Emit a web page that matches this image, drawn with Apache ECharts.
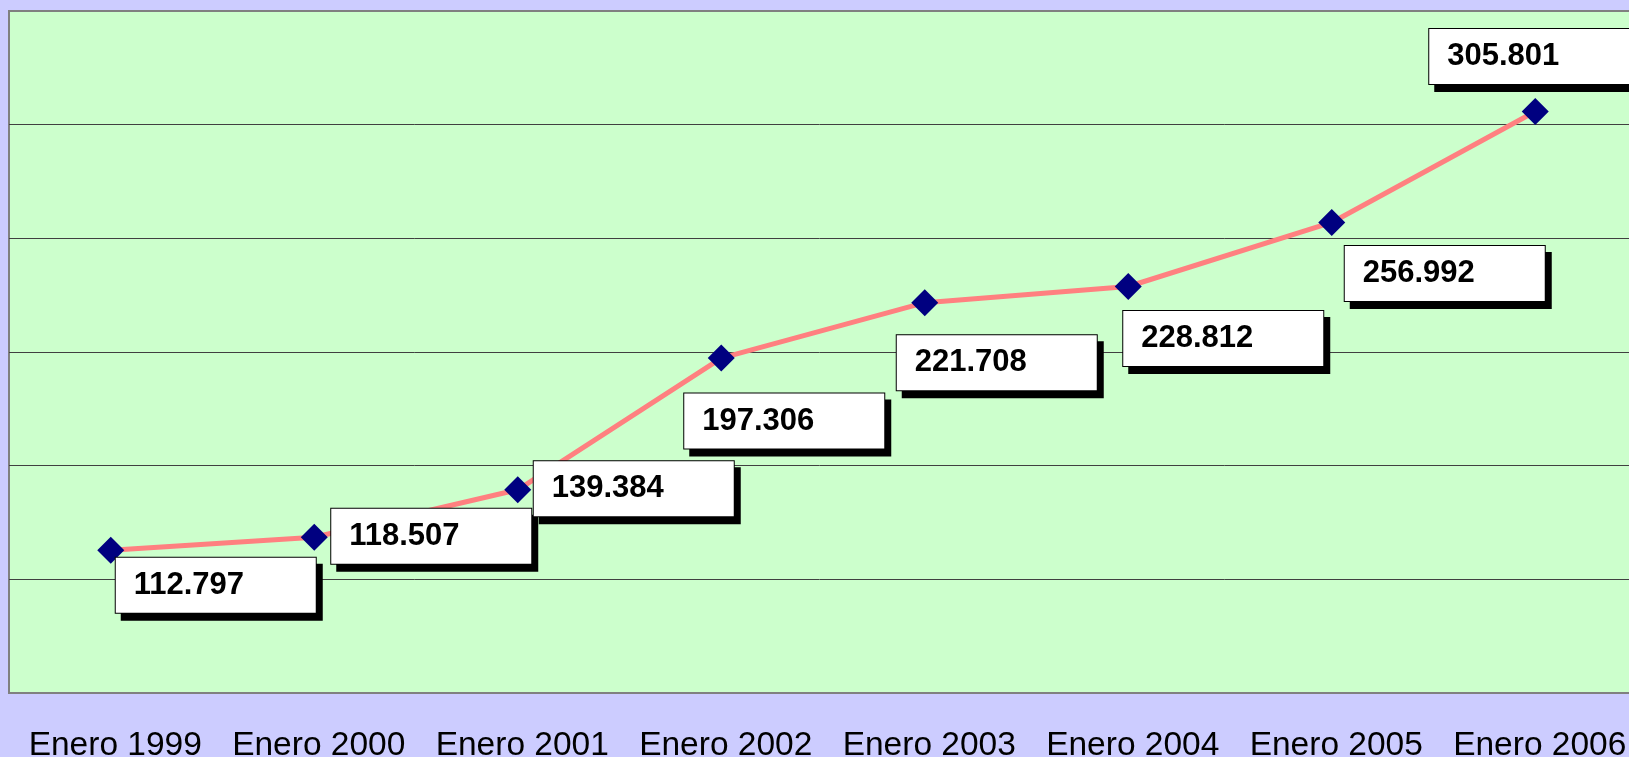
<!DOCTYPE html>
<html>
<head>
<meta charset="utf-8">
<script src="https://cdn.jsdelivr.net/npm/echarts@6/dist/echarts.min.js"></script>
<style>
  html, body { margin: 0; padding: 0; background: #ccccff; }
  #chart { width: 1629px; height: 757px; }
</style>
</head>
<body>
<div id="chart"></div>
<script>
const categories = ['Enero 1999', 'Enero 2000', 'Enero 2001', 'Enero 2002',
  'Enero 2003', 'Enero 2004', 'Enero 2005', 'Enero 2006'];
const values = [112797, 118507, 139384, 197306, 221708, 228812, 256992, 305801];
const yTicks = [50000, 100000, 150000, 200000, 250000, 300000, 350000];

// where each value box sits relative to its point (Excel-style manual placement)
const labelOffsets = [[5, 35], [17, -1], [16, -1], [-37, 63], [-28, 60], [-5, 52], [13, 51], [-106, -55]];

const fmt = (v) => String(v).replace(/\B(?=(\d{3})+(?!\d))/g, '.');

const seriesData = values.map((v, i) => ({
  value: v,
  label: { offset: labelOffsets[i] },
}));

const option = {
  backgroundColor: '#ccccff',
  animation: false,
  textStyle: { fontFamily: 'Liberation Sans, Arial, sans-serif' },
  grid: {
    left: 9,
    top: 11,
    width: 1628,
    height: 682,
    outerBoundsMode: 'none',
    containLabel: false,
    show: true,
    backgroundColor: '#ccffcc',
    borderColor: '#808080',
    borderWidth: 2,
  },
  xAxis: {
    type: 'category',
    boundaryGap: true,
    data: categories,
    axisLine: { show: false },
    axisTick: { show: false },
    axisLabel: {
      interval: 0,
      margin: 36,
      padding: [0, 0, 0, 9],
      color: '#000',
      fontSize: 33.5,
      fontFamily: 'Liberation Sans',
    },
  },
  yAxis: {
    type: 'value',
    min: yTicks[0],
    max: yTicks[yTicks.length - 1],
    interval: yTicks[1] - yTicks[0],
    axisLine: { show: false },
    axisTick: { show: false },
    axisLabel: { show: false },
    splitLine: {
      showMinLine: false,
      showMaxLine: false,
      lineStyle: { color: '#404040', width: 1 },
    },
  },
  series: [
    {
      type: 'line',
      data: seriesData,
      symbol: 'diamond',
      symbolSize: 27,
      itemStyle: { color: '#000080' },
      lineStyle: { color: '#ff8080', width: 5 },
      label: {
        show: true,
        position: 'inside',
        align: 'left',
        verticalAlign: 'middle',
        formatter: (p) => fmt(p.value),
        fontFamily: 'Liberation Sans',
        fontWeight: 'bold',
        fontSize: 31,
        color: '#000',
        backgroundColor: '#fff',
        borderColor: '#000',
        borderWidth: 1,
        padding: [0, 0, 0, 18],
        width: 182,
        lineHeight: 55,
        shadowColor: '#000',
        shadowBlur: 0,
        shadowOffsetX: 6,
        shadowOffsetY: 7,
      },
    },
  ],
};

const chart = echarts.init(document.getElementById('chart'));
chart.setOption(option);
</script>
</body>
</html>
